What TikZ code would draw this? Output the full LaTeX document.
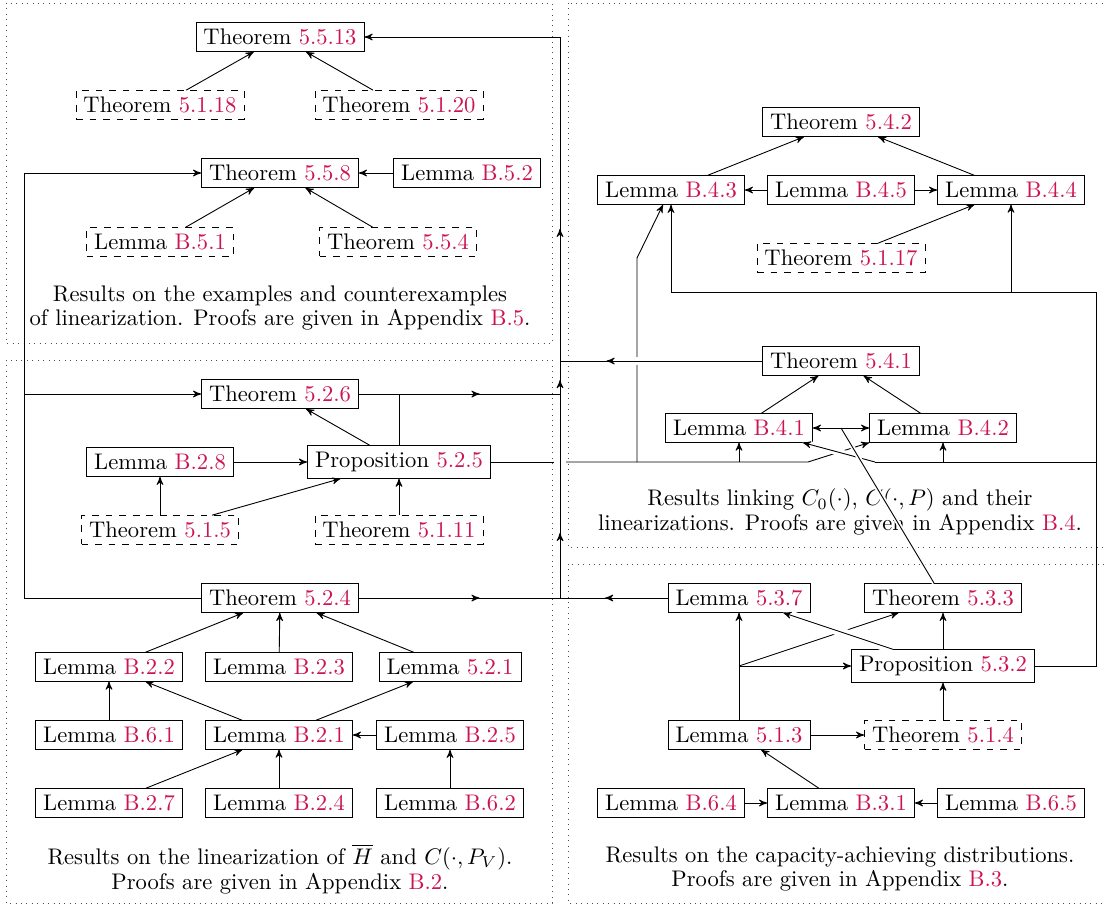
\documentclass[tikz,border=0pt]{standalone}
\usepackage{amsmath}
\usepackage{amssymb}
\usepackage{tikz}
\usetikzlibrary{arrows}
\usetikzlibrary{calc}
\usetikzlibrary{decorations.markings}
\definecolor{refcol}{RGB}{204,20,80}
\newcommand{\refc}[1]{\textcolor{refcol}{#1}}

\begin{document}
\begin{tikzpicture}[x=0.443pt,y=-0.443pt,>=stealth',
    res node/.style={rectangle,draw,inner xsep=3.33pt,inner ysep=2.8pt},
    ext node/.style={res node,dashed},
    cap node/.style={align=center},
    panel/.style={draw=black!70,dotted},
    midarrow/.style={postaction={decorate},decoration={markings,mark=at position #1 with {\arrow{>}}}},
    spine marks/.style={postaction={decorate},decoration={markings,
        mark=at position 0.086 with {\arrow{>}},
        mark=at position 0.288 with {\arrow{>}},
        mark=at position 0.488 with {\arrow{>}}}},
    bridge/.style={preaction={draw,white,-,line width=#1}}]
  \useasboundingbox (0,0) rectangle (1106,906);
  % panels
  \draw[panel] (6,3) rectangle (552,343);
  \draw[panel] (6,360) rectangle (552,903);
  \draw[panel] (568,3) rectangle (1112,547);
  \draw[panel] (568,564) rectangle (1112,903);

  % examples and counterexamples
  \node[res node] (t5513) at (280,37) {Theorem \refc{5.5.13}};
  \node[ext node] (t5118) at (160,105) {Theorem \refc{5.1.18}};
  \node[ext node] (t5120) at (399,105) {Theorem \refc{5.1.20}};
  \node[res node] (t558) at (280,173) {Theorem \refc{5.5.8}};
  \node[res node] (lb52) at (467,173) {Lemma \refc{B.5.2}};
  \node[ext node] (lb51) at (160,242) {Lemma \refc{B.5.1}};
  \node[ext node] (t554) at (398,242) {Theorem \refc{5.5.4}};
  \node[cap node] (cap1) at (280,308) {Results on the examples and counterexamples\\[-1pt]
    of linearization. Proofs are given in Appendix \refc{B.5}.};

  % linearization of H and C(.,P_V)
  \node[res node] (t526) at (280,394) {Theorem \refc{5.2.6}};
  \node[res node] (lb28) at (160,462) {Lemma \refc{B.2.8}};
  \node[res node] (p525) at (399,462) {Proposition \refc{5.2.5}};
  \node[ext node] (t515) at (160,530) {Theorem \refc{5.1.5}};
  \node[ext node] (t5111) at (399,530) {Theorem \refc{5.1.11}};
  \node[res node] (t524) at (280,598) {Theorem \refc{5.2.4}};
  \node[res node] (lb22) at (109,667) {Lemma \refc{B.2.2}};
  \node[res node] (lb23) at (279,667) {Lemma \refc{B.2.3}};
  \node[res node] (l521) at (450,667) {Lemma \refc{5.2.1}};
  \node[res node] (lb61) at (109,735) {Lemma \refc{B.6.1}};
  \node[res node] (lb21) at (279,735) {Lemma \refc{B.2.1}};
  \node[res node] (lb25) at (450,735) {Lemma \refc{B.2.5}};
  \node[res node] (lb27) at (109,803) {Lemma \refc{B.2.7}};
  \node[res node] (lb24) at (279,803) {Lemma \refc{B.2.4}};
  \node[res node] (lb62) at (450,803) {Lemma \refc{B.6.2}};
  \node[cap node] (cap2) at (280,869) {Results on the linearization of $\overline{H}$ and $C(\cdot,P_V)$.\\[-1pt]
    Proofs are given in Appendix \refc{B.2}.};

  % C_0 and C(.,P)
  \node[res node] (t542) at (841,122) {Theorem \refc{5.4.2}};
  \node[res node] (lb43) at (671,190) {Lemma \refc{B.4.3}};
  \node[res node] (lb45) at (841,190) {Lemma \refc{B.4.5}};
  \node[res node] (lb44) at (1011,190) {Lemma \refc{B.4.4}};
  \node[ext node] (t5117) at (841,258) {Theorem \refc{5.1.17}};
  \node[res node] (t541) at (841,361) {Theorem \refc{5.4.1}};
  \node[res node] (lb41) at (739,428) {Lemma \refc{B.4.1}};
  \node[res node] (lb42) at (943,428) {Lemma \refc{B.4.2}};
  \node[cap node] (cap3) at (840,512) {Results linking $C_0(\cdot)$, $C(\cdot,P)$ and their\\[-1pt]
    linearizations. Proofs are given in Appendix \refc{B.4}.};

  % capacity-achieving distributions
  \node[res node] (l537) at (739,598) {Lemma \refc{5.3.7}};
  \node[res node] (t533) at (943,598) {Theorem \refc{5.3.3}};
  \node[res node] (p532) at (943,666) {Proposition \refc{5.3.2}};
  \node[res node] (l513) at (739,735) {Lemma \refc{5.1.3}};
  \node[ext node] (t514) at (943,735) {Theorem \refc{5.1.4}};
  \node[res node] (lb64) at (671,803) {Lemma \refc{B.6.4}};
  \node[res node] (lb31) at (841,803) {Lemma \refc{B.3.1}};
  \node[res node] (lb65) at (1011,803) {Lemma \refc{B.6.5}};
  \node[cap node] (cap4) at (840,869) {Results on the capacity-achieving distributions.\\[-1pt]
    Proofs are given in Appendix \refc{B.3}.};

  % junctions
  \coordinate (sb) at (560,598);
  \coordinate (st) at (560,37);
  \coordinate (s26) at (560,394);
  \coordinate (s41) at (560,361);
  \coordinate (lb) at (24,598);
  \coordinate (lm) at (24,394);
  \coordinate (lt) at (24,173);
  \coordinate (j25) at (399,394);
  \coordinate (ga) at (554,462);
  \coordinate (gb) at (566,462);
  \coordinate (k1) at (637,462);
  \coordinate (k2) at (637,258);
  \coordinate (k3) at (739,462);
  \coordinate (k4) at (808,462);
  \coordinate (r1) at (1096,666);
  \coordinate (r2) at (1096,292);
  \coordinate (r3) at (671,292);
  \coordinate (r4) at (1011,292);
  \coordinate (r5) at (1096,462);
  \coordinate (r6) at (943,462);
  \coordinate (r7) at (875,462);
  \coordinate (b1) at (739,666);

  % inside the panels
  \draw[->] (t5118) -- (t5513);
  \draw[->] (t5120) -- (t5513);
  \draw[->] (lb51) -- (t558);
  \draw[->] (t554) -- (t558);
  \draw[->] (lb52) -- (t558);

  \draw[->] (lb28) -- (p525);
  \draw[->] (t515) -- (lb28);
  \draw[->] (t515) -- (p525);
  \draw[->] (t5111) -- (p525);
  \draw[->] (p525) -- (t526);
  \draw (p525.north) -- (j25);
  \draw[->] (lb22) -- (t524);
  \draw[->] (lb23) -- (t524);
  \draw[->] (l521) -- (t524);
  \draw[->] (lb61) -- (lb22);
  \draw[->] (lb21) -- (lb22);
  \draw[->] (lb21) -- (l521);
  \draw[->] (lb25) -- (lb21);
  \draw[->] (lb27) -- (lb21);
  \draw[->] (lb24) -- (lb21);
  \draw[->] (lb62) -- (lb25);

  \draw[->] (lb43) -- (t542);
  \draw[->] (lb44) -- (t542);
  \draw[->] (lb45) -- (lb43);
  \draw[->] (lb45) -- (lb44);
  \draw[->] (t5117) -- (lb44);
  \draw[->] (lb41) -- (t541);
  \draw[->] (lb42) -- (t541);

  \draw[->] (lb64) -- (lb31);
  \draw[->] (lb65) -- (lb31);
  \draw[->] (lb31) -- (l513);
  \draw[->] (l513) -- (t514);
  \draw[->] (t514) -- (p532);
  \draw[->] (p532) -- (t533);
  \draw[->] (l513) -- (l537);
  \draw[->] (b1) -- (p532);
  \draw[->] (b1) -- (t533);
  \draw[->,bridge=4pt] (p532) -- (l537);

  % left column
  \draw[->] (t524.west) -- (lb) -- (lt) -- (t558.west);
  \draw[->] (lm) -- (t526.west);

  % from Proposition 5.2.5 to the right
  \draw (p525.east) -- (ga);
  \draw[->] (gb) -- (k4) -- (lb42.south west);
  \draw[->] (k1) -- (k2) -- ($(lb43.south)+(-8,0)$);
  \draw[->] (k3) -- (lb41.south);

  % from Proposition 5.3.2 upwards
  \draw (p532.east) -- (r1) -- (r2) -- (r3);
  \draw[->] (r3) -- (lb43.south);
  \draw[->] (r4) -- (lb44.south);
  \draw[->] (r6) -- (lb42.south);
  \draw[->,bridge=3pt] (r7) -- ($(lb41.south east)+(-10,0)$);
  \draw (r5) -- (r7);
  \coordinate (m41) at ($(lb41.east)!0.5!(lb42.west)$);
  \draw[bridge=2pt] (t533) -- (m41);
  \draw[<->] (lb41) -- (lb42);

  % into the spine
  \draw[midarrow=0.6] (t524.east) -- (sb);
  \draw[midarrow=0.58] (l537.west) -- (sb);
  \draw[midarrow=0.6] (t526.east) -- (s26);
  \draw[midarrow=0.77,bridge=3.5pt] (t541.west) -- (s41);
  \draw[->,spine marks] (sb) -- (st) -- (t5513.east);
\end{tikzpicture}
\end{document}
